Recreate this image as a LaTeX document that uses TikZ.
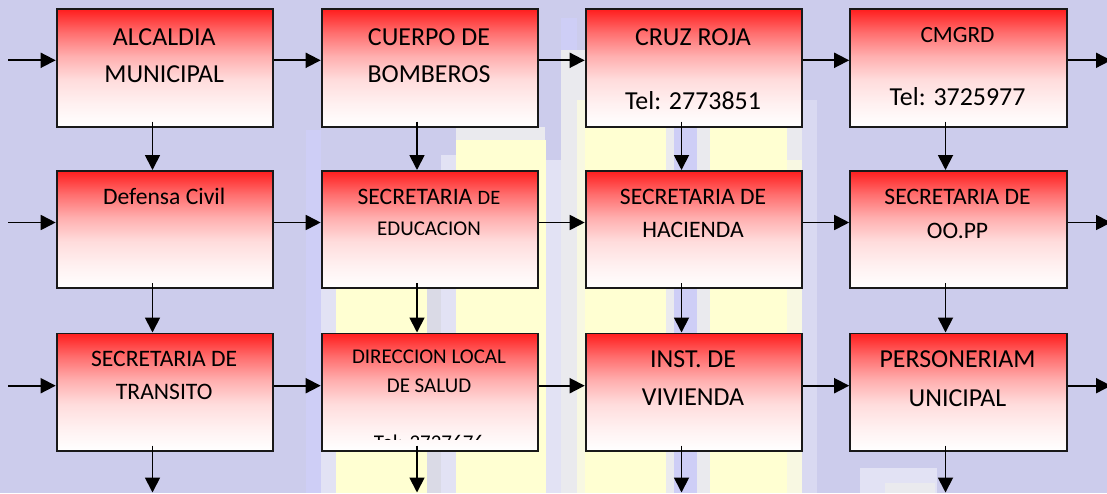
\documentclass[tikz,border=0pt]{standalone}
\usepackage{fontspec}
\setmainfont{Carlito}
\usetikzlibrary{arrows.meta,calc}
\definecolor{bgcol}{RGB}{204,204,236}
\definecolor{yel}{RGB}{255,255,210}
\definecolor{yel2}{RGB}{248,248,226}
\definecolor{lightlav}{RGB}{226,226,244}
\definecolor{bluelav}{RGB}{206,206,246}
\definecolor{greyish}{RGB}{218,218,230}
\definecolor{whitish}{RGB}{234,234,238}
\pgfdeclareverticalshading{boxgrad}{100bp}{color(0bp)=(white); color(25bp)=(white);
  color(35bp)=(rgb,255:red,255;green,240;blue,240); color(45bp)=(rgb,255:red,255;green,220;blue,220);
  color(55bp)=(rgb,255:red,255;green,175;blue,175); color(65bp)=(rgb,255:red,255;green,110;blue,110);
  color(75bp)=(rgb,255:red,255;green,30;blue,30); color(100bp)=(rgb,255:red,255;green,30;blue,30)}
\begin{document}
\begin{tikzpicture}[x=1pt,y=-1pt,
  box/.style={draw=black!90, line width=1.8pt, shading=boxgrad,
    minimum width=216.5pt, minimum height=117.4pt, anchor=north west, inner sep=0pt},
  arr/.style={line width=1.8pt, -{Triangle[length=15pt,width=15pt]}},
  lbl/.style={anchor=base, inner sep=0pt, text=black},
  fbig/.style={font=\fontsize{25.9}{30}\selectfont},
  fmed/.style={font=\fontsize{23.6}{28}\selectfont},
  fsml/.style={font=\fontsize{21}{25}\selectfont}]
\clip (0,0) rectangle (1107,493);
\useasboundingbox (0,0) rectangle (1107,493);
% background
\fill[bgcol] (0,0) rectangle (1107,493);
\fill[bluelav] (306,130) rectangle (321,493);
\fill[lightlav] (321,287) rectangle (336,493);
\fill[yel] (336,287) rectangle (427,493);
\fill[greyish] (427,287) rectangle (441,493);
\fill[lightlav] (441,287) rectangle (456,493);
\fill[whitish] (456,127) rectangle (545,140);
\fill[lightlav] (441,155) rectangle (456,170);
\fill[yel] (456,140) rectangle (546,493);
\fill[lightlav] (546,160) rectangle (561,493);
\fill[bluelav] (561,18) rectangle (577,50);
\fill[whitish] (561,50) rectangle (577,493);
\fill[whitish] (577,50) rectangle (585,100);
\fill[yel2] (577,100) rectangle (585,493);
\fill[yel] (585,127) rectangle (666,493);
\fill[whitish] (666,127) rectangle (674,493);
\fill[bluelav] (674,127) rectangle (697,493);
\fill[whitish] (697,127) rectangle (710,493);
\fill[yel] (710,127) rectangle (787,493);
\fill[whitish] (787,127) rectangle (802,160);
\fill[yel2] (787,160) rectangle (802,493);
\fill[lightlav!60!bgcol] (802,100) rectangle (817,493);
\fill[lightlav] (860,468) rectangle (937,493);
\fill[whitish] (885,483) rectangle (935,493);
% helper coordinates
\coordinate (h1) at (0,60.3);
\coordinate (h2) at (0,222.5);
\coordinate (h3) at (0,385.7);
\coordinate (v1) at (152.5,0);
\coordinate (v2) at (417,0);
\coordinate (v3) at (681.5,0);
\coordinate (v4) at (945.5,0);
% boxes
\foreach \r/\t in {1/8.3,2/170,3/332.5}{
  \node[box] (b\r1) at (55.7,\t) {};
  \node[box] (b\r2) at (320.7,\t) {};
  \node[box] (b\r3) at (584.7,\t) {};
  \node[box] (b\r4) at (849.2,\t) {};
}
% labels row 1
\node[lbl,fbig] (t11a) at (164.2,45) {ALCALDIA};
\node[lbl,fbig] (t11b) at (164.2,82) {MUNICIPAL};
\node[lbl,fbig] (t12a) at (429,45) {CUERPO DE};
\node[lbl,fbig] (t12b) at (429,82) {BOMBEROS};
\node[lbl,fbig] (t13a) at (693,45) {CRUZ ROJA};
\node[lbl,fbig] (t13b) at (693,109) {Tel: 2773851};
\node[lbl,font=\fontsize{23.3}{28}\selectfont] (t14a) at (957.5,42.3) {CMGRD};
\node[lbl,fbig] (t14b) at (957.5,105) {Tel: 3725977};
% labels row 2
\node[lbl,fmed] (t21a) at (164.2,204) {Defensa Civil};
\node[lbl,fmed] (t22a) at (429,204) {SECRETARIA {\fontsize{20.5}{25}\selectfont DE}};
\node[lbl,fsml] (t22b) at (429,235) {EDUCACION};
\node[lbl,fmed] (t23a) at (693,204) {SECRETARIA DE};
\node[lbl,fmed] (t23b) at (693,237.3) {HACIENDA};
\node[lbl,fmed] (t24a) at (957.5,204) {SECRETARIA DE};
\node[lbl,fmed] (t24b) at (957.5,238) {OO.PP};
% labels row 3
\node[lbl,fmed] (t31a) at (164.2,366) {SECRETARIA DE};
\node[lbl,fmed] (t31b) at (164.2,399) {TRANSITO};
\node[lbl,fsml] (t32a) at (429,363.3) {DIRECCION LOCAL};
\node[lbl,fsml] (t32b) at (429,392.7) {DE SALUD};
\begin{scope}
  \clip (322,420) rectangle (536,439.3);
  \node[lbl,fsml] (t32c) at (429,449) {Tel: 2727676};
\end{scope}
\node[lbl,fbig] (t33a) at (693,367.7) {INST. DE};
\node[lbl,fbig] (t33b) at (693,405) {VIVIENDA};
\node[lbl,fbig] (t34a) at (957.5,367.7) {PERSONERIAM};
\node[lbl,fbig] (t34b) at (957.5,406) {UNICIPAL};
% horizontal arrows
\foreach \r in {1,2,3}{
  \coordinate (in\r) at (8,0 |- h\r);
  \coordinate (out\r) at (1111,0 |- h\r);
  \draw[arr] (in\r) -- (b\r1.west |- h\r);
  \draw[arr] (b\r1.east |- h\r) -- (b\r2.west |- h\r);
  \draw[arr] (b\r2.east |- h\r) -- (b\r3.west |- h\r);
  \draw[arr] (b\r3.east |- h\r) -- (b\r4.west |- h\r);
  \draw[arr] (b\r4.east |- h\r) -- (out\r);
}
% vertical arrows
\foreach \c in {1,2,3,4}{
  \coordinate (bot\c) at (v\c |- 0,492.5);
  \draw[arr] ($(b1\c.south -| v\c)+(0,-6)$) -- (b2\c.north -| v\c);
  \draw[arr] ($(b2\c.south -| v\c)+(0,-6)$) -- (b3\c.north -| v\c);
  \draw[arr] ($(b3\c.south -| v\c)+(0,-6)$) -- (bot\c);
}
\end{tikzpicture}
\end{document}
